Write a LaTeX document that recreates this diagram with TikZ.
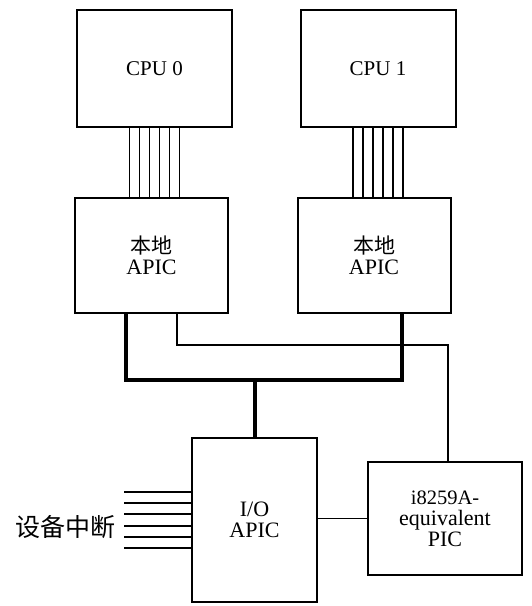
\documentclass[tikz,border=0pt]{standalone}
\usepackage{fontspec}
\setmainfont{Liberation Serif}
\newfontfamily\cjk{Noto Sans CJK SC}
\usepackage{tikz}
\usetikzlibrary{positioning,calc}

\begin{document}
\begin{tikzpicture}[
    x=1pt, y=1pt,
    every node/.style={font=\fontsize{22}{21}\selectfont, align=center},
    cpubox/.style={draw, line width=2pt, minimum width=155pt, minimum height=117pt},
    apicbox/.style={draw, line width=2pt, minimum width=153pt, minimum height=115pt},
    iobox/.style={draw, line width=2pt, minimum width=125pt, minimum height=164pt},
    picbox/.style={draw, line width=2pt, minimum width=154pt, minimum height=113pt},
    wire/.style={draw, line width=1.8pt},
    bus/.style={draw, line width=4pt}
]
\useasboundingbox (0,0) rectangle (531,606);

\node[cpubox] (cpu0) at (154.5,537.5) {\fontsize{21}{22}\selectfont CPU 0};
\node[cpubox] (cpu1) at (378,537.5) {\fontsize{21}{22}\selectfont CPU 1};

\node[apicbox] (apic0) at (151.5,350.5) {{\cjk\fontsize{21}{21}\selectfont 本地}\\APIC};
\node[apicbox] (apic1) at (374,350.5) {{\cjk\fontsize{21}{21}\selectfont 本地}\\APIC};

\node[iobox] (io) at (254.5,86) {\fontsize{22}{24}\selectfont I/O\\APIC};
\node[picbox] (pic) at (445,87.5) {\fontsize{20.5}{25}\selectfont i8259A-\\equivalent\\PIC};

% cpu to local apic
\foreach \dx in {-25,-15,-5,5,15,25} {
  \draw[wire] ([xshift=\dx]cpu0.south) -- ([xshift=\dx]cpu0.south |- apic0.north);
  \draw[wire] ([xshift=\dx]cpu1.south) -- ([xshift=\dx]cpu1.south |- apic1.north);
}

% apic bus
\coordinate (busL) at ([xshift=-26]apic0.south |- 0,226);
\draw[bus] ([xshift=-26]apic0.south) -- (busL) -| ([xshift=28]apic1.south);
\draw[bus] (io.north) -- (io.north |- busL);

% thin line to the pic
\draw[wire] ([xshift=25.5]apic0.south) |- ($(pic.north)+(3,116)$) -- ([xshift=3]pic.north);
\draw[wire] (io.east |- pic.west) -- (pic.west);

% device interrupts
\foreach \dy in {28,17,6,-6,-17,-28}
  \draw[wire] ([yshift=\dy]io.west) -- ++(-67,0);
\node[anchor=east, font=\cjk\fontsize{25}{27}\selectfont] (irq) at (119,79) {设备中断};
\end{tikzpicture}
\end{document}
